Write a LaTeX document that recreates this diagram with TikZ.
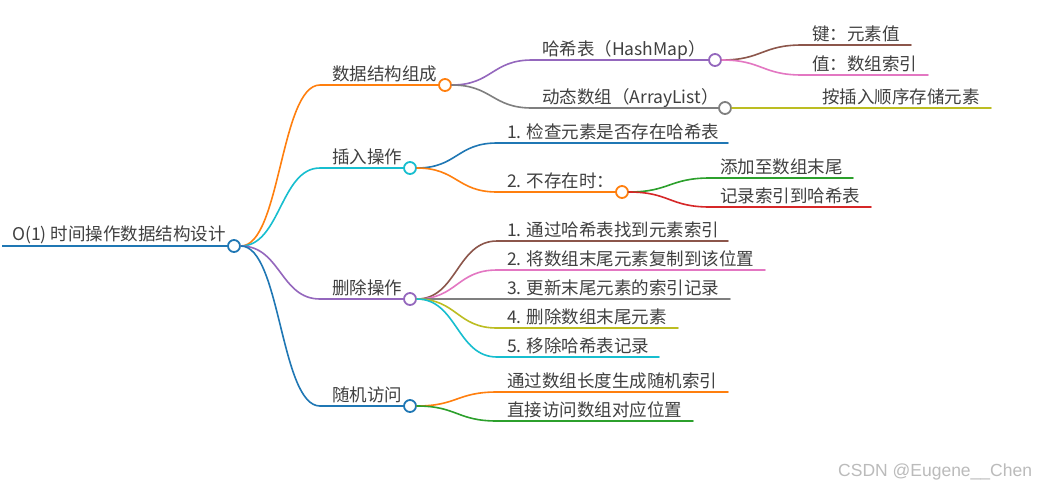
\documentclass[tikz,border=0pt]{standalone}
\usepackage{fontspec}
\setmainfont{Noto Sans CJK SC}
\newfontfamily\wmfont{Liberation Sans}
\usetikzlibrary{calc}
\definecolor{cblue}{HTML}{1F77B4}
\definecolor{corange}{HTML}{FF7F0E}
\definecolor{ccyan}{HTML}{17BECF}
\definecolor{cpurple}{HTML}{9467BD}
\definecolor{cgray}{HTML}{7F7F7F}
\definecolor{cbrown}{HTML}{8C564B}
\definecolor{cpink}{HTML}{E377C2}
\definecolor{colive}{HTML}{BCBD22}
\definecolor{cgreen}{HTML}{2CA02C}
\definecolor{cred}{HTML}{D62728}
\definecolor{txt}{HTML}{404040}
\definecolor{wmgray}{HTML}{BBBBBB}
\tikzset{
  lbl/.style={anchor=base west, inner sep=0pt, text=txt, font=\fontsize{17.5}{20}\selectfont},
  dot/.style={circle, draw=#1, fill=white, minimum size=12pt, inner sep=0pt, line width=1.8pt},
  edge/.style={line width=1.6pt, line cap=round},
  rootedge/.style={line width=2.6pt},
}
\newcommand\conn[4]{\draw[edge,#1] let \p1=(#2), \p2=(#3) in (#2) .. controls ({(\x1+\x2)/2},\y1) and ({(\x1+\x2)/2},\y2) .. (#3) -- (#4);}
\begin{document}
\begin{tikzpicture}[x=1pt,y=-1pt]
\path[use as bounding box, fill=white] (0,0) rectangle (1041,488);

% root
\coordinate (r0) at (2,246);
\node[dot=cblue] (r) at (234,246) {};
\node[lbl] (rt) at (12,240) {O(1) 时间操作数据结构设计};
\draw[rootedge,cblue] (r0) -- (r.west);

% level 1
\coordinate (As) at (320,85);  \node[dot=corange] (A) at (445,85) {};  \node[lbl] (At) at (332,80) {数据结构组成};
\coordinate (Bs) at (320,168); \node[dot=ccyan] (B) at (410,168) {};   \node[lbl] (Bt) at (332,163) {插入操作};
\coordinate (Cs) at (320,299); \node[dot=cpurple] (C) at (410,299) {}; \node[lbl] (Ct) at (332,294) {删除操作};
\coordinate (Ds) at (320,406); \node[dot=cblue] (D) at (410,406) {};   \node[lbl] (Dt) at (332,401) {随机访问};
\conn{corange}{r.east}{As}{A.west}
\conn{ccyan}{r.east}{Bs}{B.west}
\conn{cpurple}{r.east}{Cs}{C.west}
\conn{cblue}{r.east}{Ds}{D.west}

% 数据结构组成
\coordinate (A1s) at (532,60);  \node[dot=cpurple] (A1) at (715,60) {}; \node[lbl] (A1t) at (542,55) {哈希表（HashMap）};
\coordinate (A2s) at (532,108); \node[dot=cgray] (A2) at (725,108) {};  \node[lbl] (A2t) at (542,103) {动态数组（ArrayList）};
\conn{cpurple}{A.east}{A1s}{A1.west}
\conn{cgray}{A.east}{A2s}{A2.west}
\coordinate (A1as) at (802,45); \coordinate (A1ae) at (911,45); \node[lbl] (A1at) at (812,40) {键：元素值};
\coordinate (A1bs) at (802,75); \coordinate (A1be) at (928,75); \node[lbl] (A1bt) at (812,70) {值：数组索引};
\conn{cbrown}{A1.east}{A1as}{A1ae}
\conn{cpink}{A1.east}{A1bs}{A1be}
\coordinate (A2as) at (812,108); \coordinate (A2ae) at (991,108); \node[lbl] (A2at) at (822,103) {按插入顺序存储元素};
\draw[edge,colive] (A2.east) -- (A2as) -- (A2ae);

% 插入操作
\coordinate (B1s) at (497,143); \coordinate (B1e) at (728,143); \node[lbl] (B1t) at (507,138) {1. 检查元素是否存在哈希表};
\coordinate (B2s) at (497,192); \node[dot=corange] (B2) at (622,192) {}; \node[lbl] (B2t) at (507,187) {2. 不存在时：};
\conn{cblue}{B.east}{B1s}{B1e}
\conn{corange}{B.east}{B2s}{B2.west}
\coordinate (B2as) at (710,178); \coordinate (B2ae) at (853,178); \node[lbl] (B2at) at (720,173) {添加至数组末尾};
\coordinate (B2bs) at (710,207); \coordinate (B2be) at (871,207); \node[lbl] (B2bt) at (720,202) {记录索引到哈希表};
\conn{cgreen}{B2.east}{B2as}{B2ae}
\conn{cred}{B2.east}{B2bs}{B2be}

% 删除操作
\coordinate (C1s) at (497,241); \coordinate (C1e) at (728,241); \node[lbl] (C1t) at (507,236) {1. 通过哈希表找到元素索引};
\coordinate (C2s) at (497,270); \coordinate (C2e) at (765,270); \node[lbl] (C2t) at (507,265) {2. 将数组末尾元素复制到该位置};
\coordinate (C3s) at (497,299); \coordinate (C3e) at (730,299); \node[lbl] (C3t) at (507,294) {3. 更新末尾元素的索引记录};
\coordinate (C4s) at (497,328); \coordinate (C4e) at (678,328); \node[lbl] (C4t) at (507,323) {4. 删除数组末尾元素};
\coordinate (C5s) at (497,357); \coordinate (C5e) at (659,357); \node[lbl] (C5t) at (507,352) {5. 移除哈希表记录};
\conn{cbrown}{C.east}{C1s}{C1e}
\conn{cpink}{C.east}{C2s}{C2e}
\conn{cgray}{C.east}{C3s}{C3e}
\conn{colive}{C.east}{C4s}{C4e}
\conn{ccyan}{C.east}{C5s}{C5e}

% 随机访问
\coordinate (D1s) at (497,392); \coordinate (D1e) at (728,392); \node[lbl] (D1t) at (507,387) {通过数组长度生成随机索引};
\coordinate (D2s) at (497,421); \coordinate (D2e) at (693,421); \node[lbl] (D2t) at (507,416) {直接访问数组对应位置};
\conn{corange}{D.east}{D1s}{D1e}
\conn{cgreen}{D.east}{D2s}{D2e}

% watermark
\node[anchor=base west, inner sep=0pt, text=wmgray, font=\wmfont\fontsize{17.5}{20}\selectfont] (wm) at (838,476) {CSDN @Eugene\_\_Chen};
\end{tikzpicture}
\end{document}
